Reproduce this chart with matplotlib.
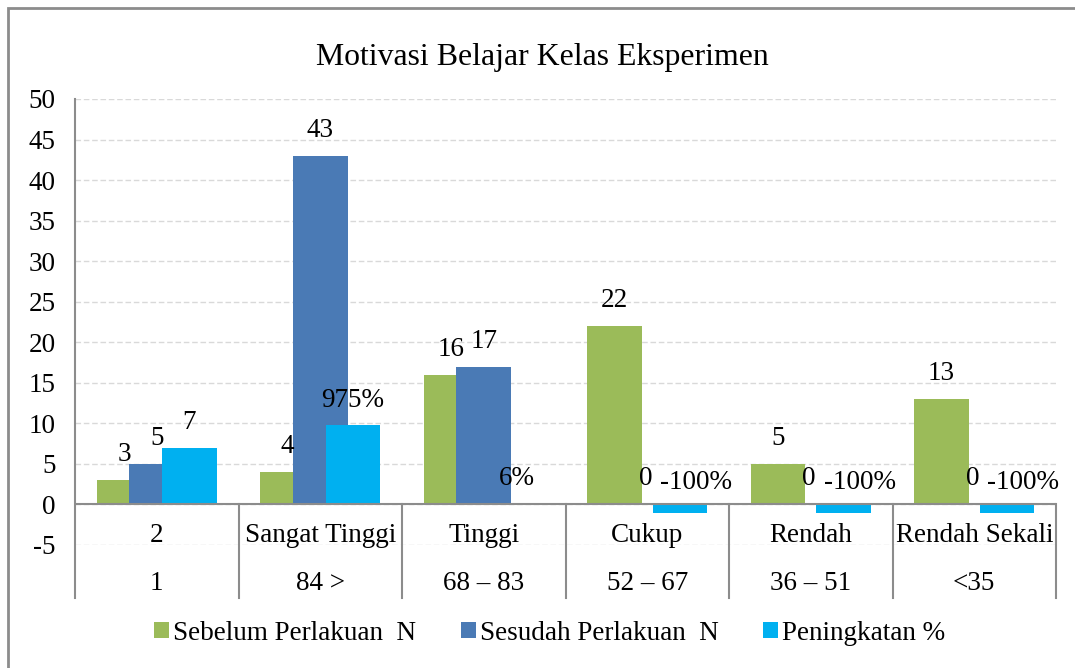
import matplotlib.pyplot as plt
import matplotlib.transforms as mtransforms
from matplotlib.patches import Rectangle

plt.rcParams["font.family"] = ["Liberation Serif", "DejaVu Serif"]
plt.rcParams["axes.unicode_minus"] = False

categories = ["2", "Sangat Tinggi", "Tinggi", "Cukup", "Rendah", "Rendah Sekali"]
score_ranges = ["1", "84 >", "68 \u2013 83", "52 \u2013 67", "36 \u2013 51", "<35"]
sebelum = [3, 4, 16, 22, 5, 13]
sesudah = [5, 43, 17, 0, 0, 0]
peningkatan = [7, 9.75, 0.06, -1, -1, -1]
peningkatan_labels = ["7", "975%", "6%", "-100%", "-100%", "-100%"]
series_names = ["Sebelum Perlakuan  N", "Sesudah Perlakuan  N", "Peningkatan %"]
colors = ["#9bbb59", "#4a7ab5", "#00b0f0"]

W, H = 1075, 668
fig = plt.figure(figsize=(W / 100, H / 100), dpi=100)

# plot area in pixels: x 75..1056, y(50)=99, y(-5)=545
left, right, top, bottom = 75, 1056, 99, 545
ax = fig.add_axes([left / W, 1 - bottom / H, (right - left) / W, (bottom - top) / H])

n = len(categories)
fs = 19.5
ax.set_xlim(0, n)
ax.set_ylim(-5, 50)
ax.set_yticks(range(-5, 51, 5))
ax.set_xticks([])
ax.tick_params(axis="y", length=0, labelsize=fs, pad=14)
for s in ax.spines.values():
    s.set_visible(False)
ax.grid(axis="y", color="#d9d9d9", linestyle=(0, (4, 2)), linewidth=1)
ax.set_axisbelow(True)

width = 0.335
offsets = [-0.2, 0.0, 0.2]
series = [sebelum, sesudah, peningkatan]
for vals, off, col, name in zip(series, offsets, colors, series_names):
    ax.bar([i + 0.5 + off for i in range(n)], vals, width=width, color=col, label=name, zorder=2)

# data labels
for i in range(n):
    c = i + 0.5
    ax.text(c - 0.2, sebelum[i] + 3.1, str(sebelum[i]), ha="center", va="center", fontsize=fs)
    if sesudah[i] > 0:
        ax.text(c, sesudah[i] + 3.1, str(sesudah[i]), ha="center", va="center", fontsize=fs)
    else:
        ax.text(c - 0.01, 3.2, str(sesudah[i]), ha="center", va="center", fontsize=fs)
    if peningkatan[i] < 0:
        ax.text(c + 0.3, 2.7, peningkatan_labels[i], ha="center", va="center", fontsize=fs)
    else:
        ax.text(c + 0.2, peningkatan[i] + 3.1, peningkatan_labels[i], ha="center", va="center", fontsize=fs)

# axis lines and category table
axis_col = "#8c8c8c"
blend = mtransforms.blended_transform_factory(ax.transData, ax.transAxes)
ax.axhline(0, color=axis_col, linewidth=1.5, zorder=3)
table_bottom = (bottom - 598) / (bottom - top)
ax.plot([0, 0], [1, table_bottom], transform=blend, color=axis_col, linewidth=1.5, clip_on=False)
for i in range(1, n + 1):
    ax.plot([i, i], [5 / 55, table_bottom], transform=blend, color=axis_col, linewidth=1.5, clip_on=False)

row1_y = (bottom - 536) / (bottom - top)
row2_y = (bottom - 583) / (bottom - top)
for i in range(n):
    ax.text(i + 0.5, row1_y, categories[i], transform=blend, ha="center", va="center", fontsize=fs, clip_on=False)
    ax.text(i + 0.5, row2_y, score_ranges[i], transform=blend, ha="center", va="center", fontsize=fs, clip_on=False)

fig.text(542 / W, 1 - 57 / H, "Motivasi Belajar Kelas Eksperimen", ha="center", va="center", fontsize=22.9)

fig.legend(loc="center", bbox_to_anchor=(550 / W, 1 - 633 / H), ncol=3, frameon=False, fontsize=fs,
           handlelength=0.55, handleheight=0.55, handletextpad=0.15, columnspacing=1.65)

# chart border (cropped on right and bottom)
fig.patches.append(Rectangle((8 / W, -0.1), 1.2, 1 - 8 / H + 0.1, transform=fig.transFigure,
                             fill=False, edgecolor="#8c8c8c", linewidth=2))

fig.savefig("out.png", dpi=100)
